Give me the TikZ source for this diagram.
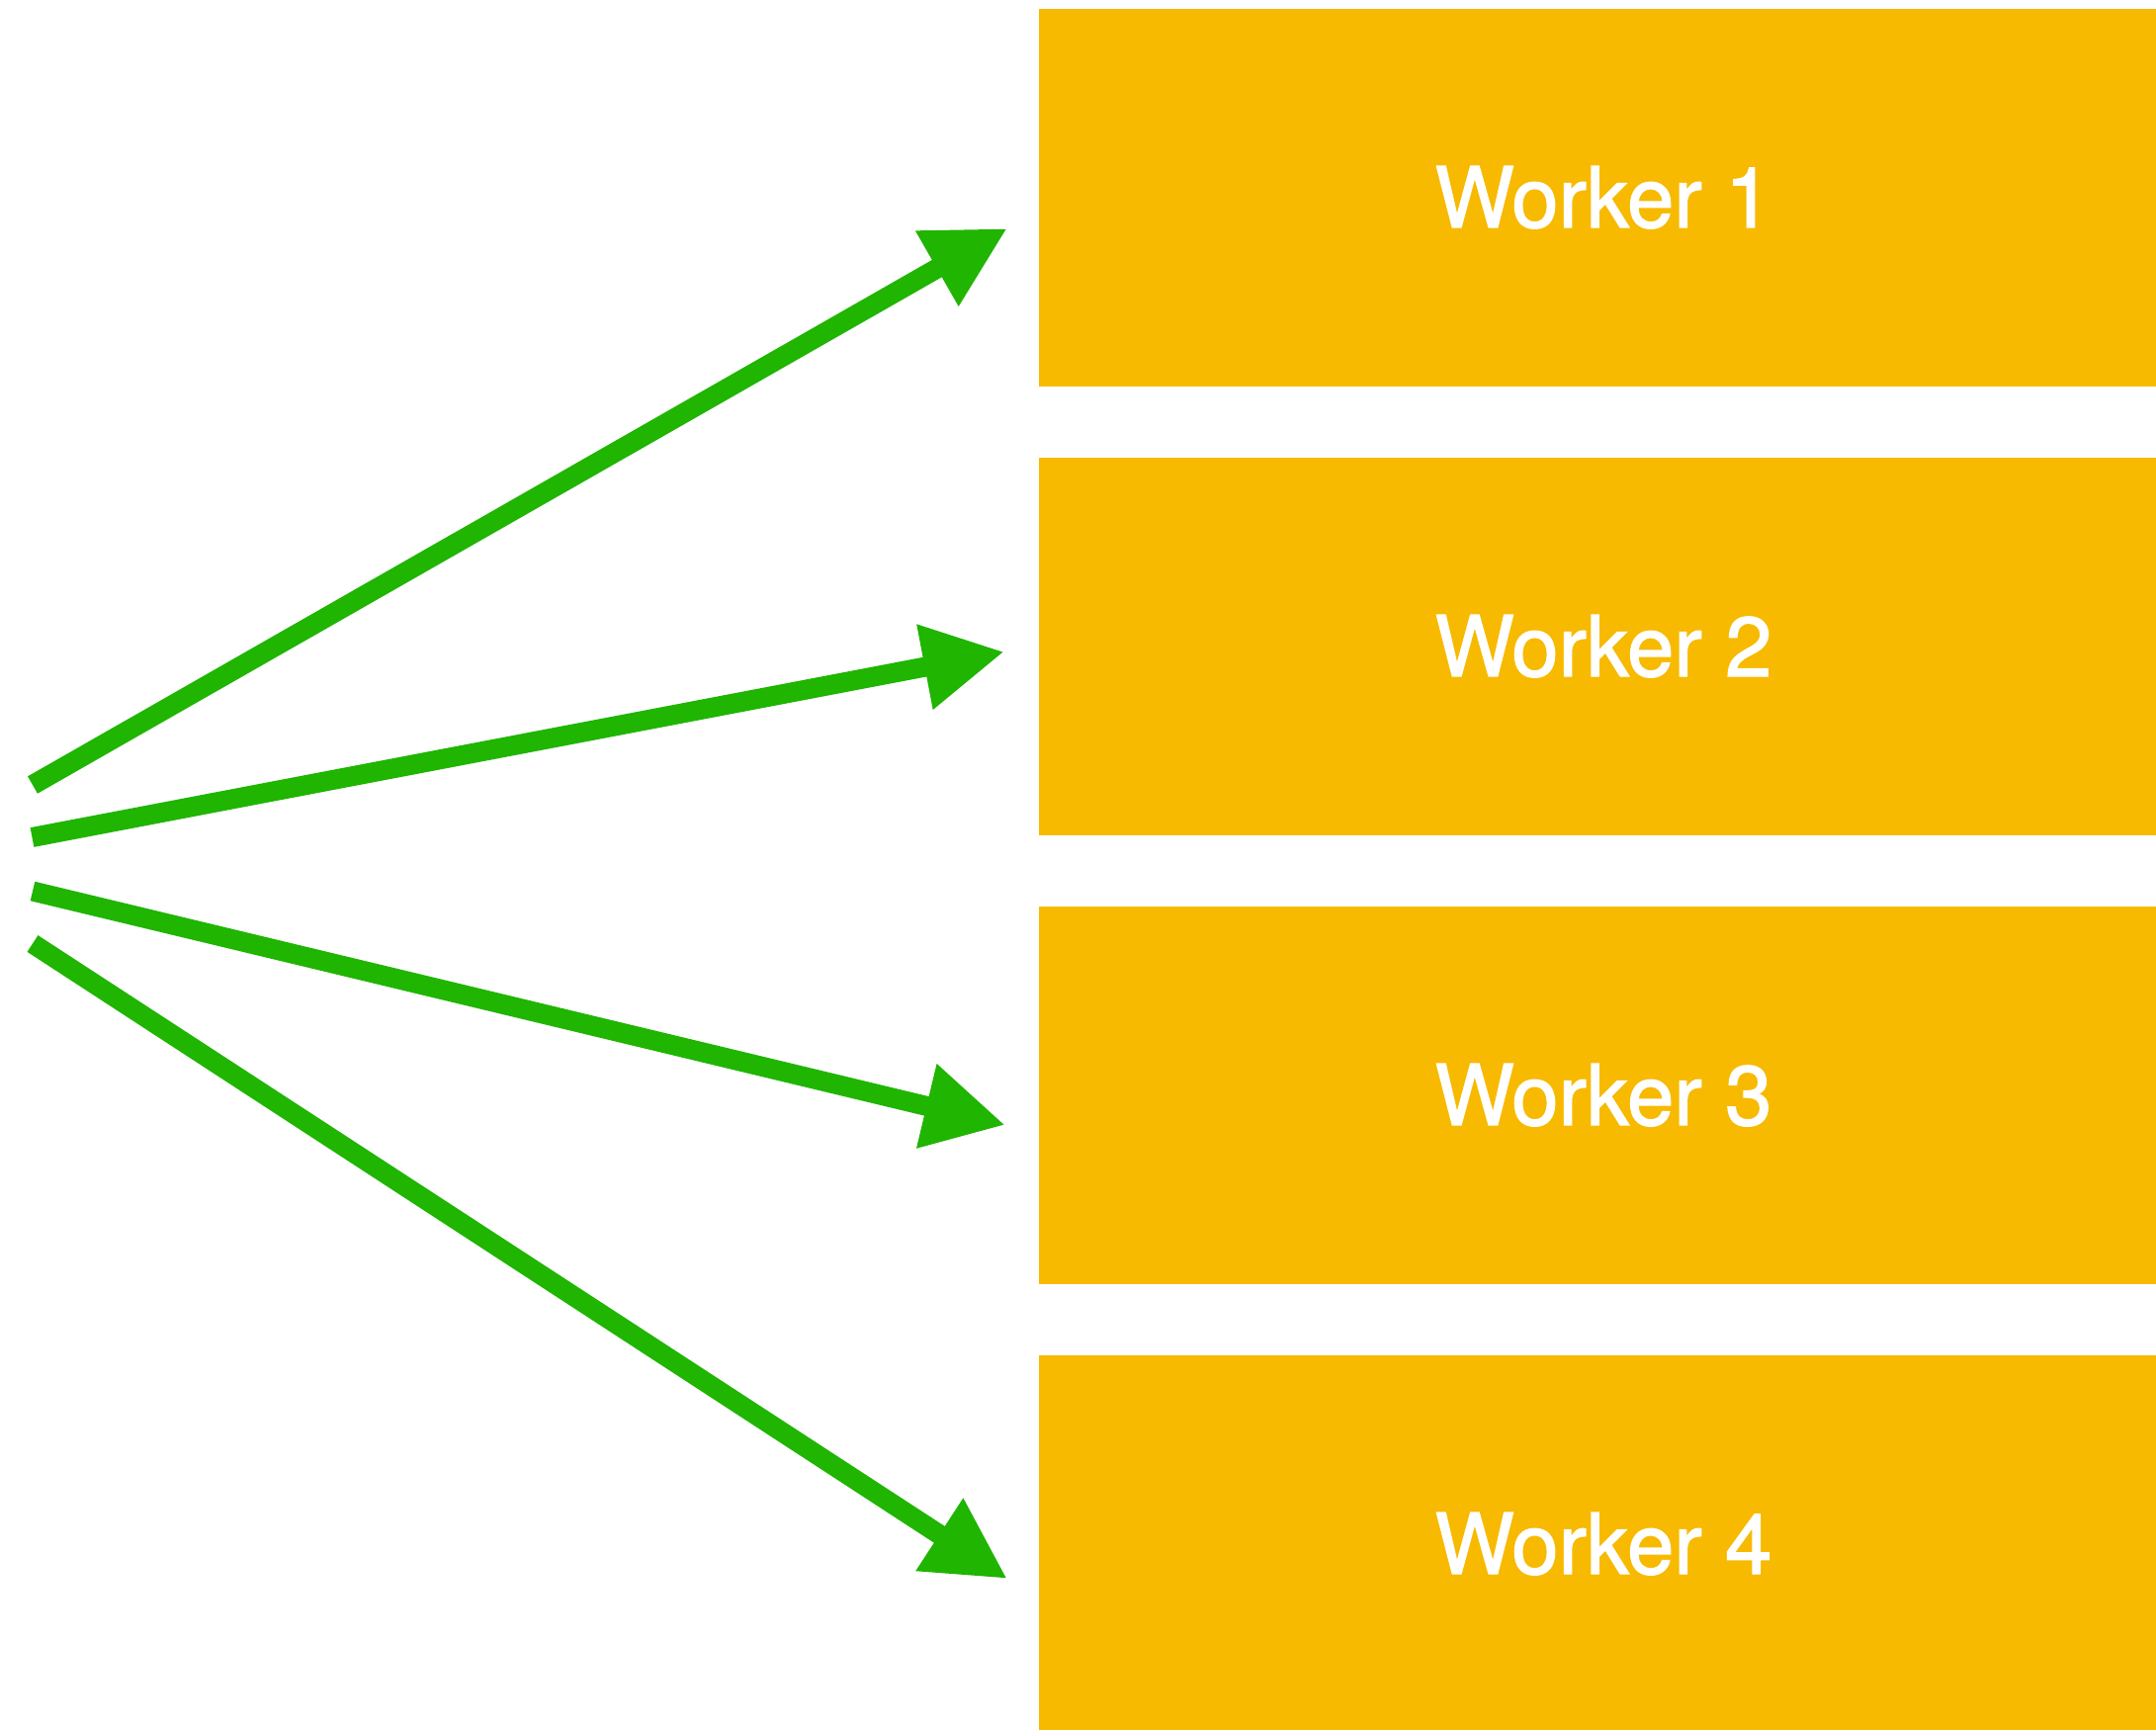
\documentclass[tikz,border=0pt]{standalone}
\usepackage{fontspec}
\usetikzlibrary{arrows.meta}
\newfontfamily\labelfont[FakeBold=1.6]{TeX Gyre Heros}
\definecolor{workerfill}{RGB}{247,186,0}
\definecolor{sendgreen}{RGB}{31,181,0}
\tikzset{
  workerbox/.style={fill=workerfill, draw=none, inner sep=0pt,
    minimum width=1142pt, minimum height=382pt, text=white,
    font=\labelfont\fontsize{85}{100}\selectfont},
  sendarrow/.style={draw=sendgreen, line width=20pt,
    -{Triangle[length=82pt,width=82pt]}}
}
\begin{document}
\begin{tikzpicture}[x=1pt,y=-1pt]
  \useasboundingbox (0,0) rectangle (2181,1750);
  \clip (0,0) rectangle (2181,1750);

  % worker boxes
  \node[workerbox] (w1) at (1622,199.7)  {Worker 1};
  \node[workerbox] (w2) at (1622,653.7)  {Worker 2};
  \node[workerbox] (w3) at (1622,1107.7) {Worker 3};
  \node[workerbox] (w4) at (1622,1561.7) {Worker 4};

  % arrow start points on the left
  \coordinate (s1) at (33,794);
  \coordinate (s2) at (32.5,847);
  \coordinate (s3) at (33,901.5);
  \coordinate (s4) at (33,954.5);

  % arrow tips in front of the boxes
  \coordinate (t1) at (1019,231);
  \coordinate (t2) at (1016,659.3);
  \coordinate (t3) at (1017,1138);
  \coordinate (t4) at (1019,1597);

  \draw[sendarrow] (s1) -- (t1);
  \draw[sendarrow] (s2) -- (t2);
  \draw[sendarrow] (s3) -- (t3);
  \draw[sendarrow] (s4) -- (t4);
\end{tikzpicture}
\end{document}
